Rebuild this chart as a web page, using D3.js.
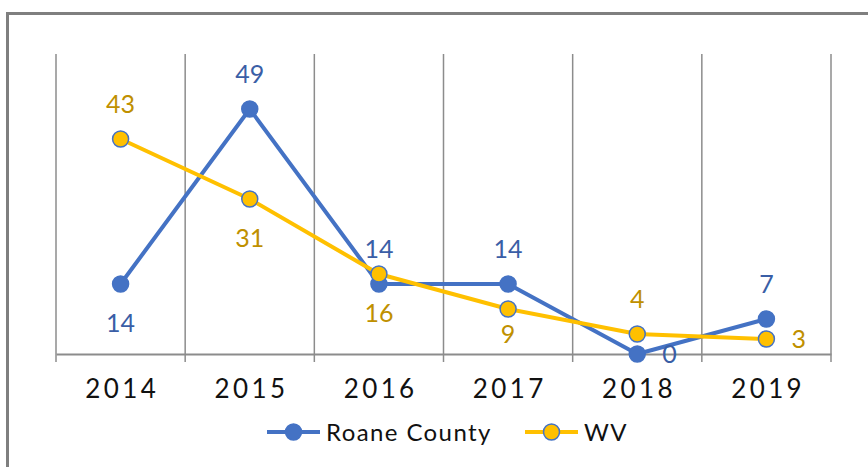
<!DOCTYPE html>
<html>
<head>
<meta charset="utf-8">
<script src="https://cdn.jsdelivr.net/npm/d3@7"></script>
<style>
body{margin:0;background:#fff;}
svg{display:block;}
</style>
</head>
<body>
<svg id="board" width="868" height="467"></svg>
<script>
years = ['2014','2015','2016','2017','2018','2019'];
roane = [14, 49, 14, 14, 0, 7];
wv = [43, 31, 16, 9, 4, 3];
// where each data label sits relative to its point
roane_pos = ['below','above','above','above','right','above'];
wv_pos = ['above','below','below','below','above','right'];

board = d3.select('#board');
font = 'Lato, "Noto Sans", sans-serif';

// outer frame, cut off at right and bottom
board.append('rect')
    .attr('x',7.5).attr('y',13.5)
    .attr('width',900).attr('height',500)
    .attr('fill','none')
    .attr('stroke','#7f7f7f')
    .attr('stroke-width',3);

x = d3.scaleBand().domain(years).range([56,831]);
y = d3.scaleLinear().domain([0,60]).range([354,54]);
cx = d => x(d) + x.bandwidth()/2;

// vertical gridlines on category boundaries
bounds = years.map(d => x(d)).concat([x.range()[1]]);
board.selectAll('.grid').data(bounds).enter().append('line')
    .attr('x1',d=>d).attr('x2',d=>d)
    .attr('y1',y(60)).attr('y2',y(0))
    .attr('stroke','#8c8c8c').attr('stroke-width',1.5);

xaxis = board.append('g')
    .attr('transform','translate(0,'+y(0)+')')
    .call(d3.axisBottom(x).tickSize(0));
xaxis.select('.domain').attr('stroke','#8c8c8c').attr('stroke-width',2);
xaxis.selectAll('text')
    .attr('y',44).attr('dy',0).attr('dx',1.7)
    .attr('font-family',font).attr('font-size',26)
    .attr('letter-spacing','3.4px').attr('fill','#111');
// tick marks on boundaries
board.selectAll('.tk').data(bounds).enter().append('line')
    .attr('x1',d=>d).attr('x2',d=>d)
    .attr('y1',y(0)).attr('y2',y(0)+8)
    .attr('stroke','#8c8c8c').attr('stroke-width',1.5);

line = d3.line().x((d,i)=>cx(years[i])).y(d=>y(d));

function draw_series(vals, col, mfill, mstroke, tcol, pos){
    board.append('path').datum(vals)
        .attr('d',line).attr('fill','none')
        .attr('stroke',col).attr('stroke-width',4)
        .attr('stroke-linejoin','round');
    board.selectAll(null).data(vals).enter().append('circle')
        .attr('cx',(d,i)=>cx(years[i])).attr('cy',d=>y(d))
        .attr('r',8).attr('fill',mfill)
        .attr('stroke',mstroke).attr('stroke-width',1.5);
    // labels below are kept inside the plot area
    board.selectAll(null).data(vals).enter().append('text')
        .attr('x',(d,i)=> pos[i]=='right' ? cx(years[i])+25 : cx(years[i]))
        .attr('y',(d,i)=> pos[i]=='above' ? y(d)-26 : pos[i]=='below' ? Math.min(y(d)+48, y(0)-11) : y(d)+9)
        .attr('text-anchor',(d,i)=> pos[i]=='right' ? 'start' : 'middle')
        .attr('font-family',font).attr('font-size',25)
        .attr('fill',tcol)
        .text(d=>d);
}

draw_series(roane,'#4472c4','#4472c4','#4472c4','#3a5ea6',roane_pos);
draw_series(wv,'#ffc000','#ffc000','#4472c4','#bf9000',wv_pos);

// legend
legend = [{name:'Roane County',col:'#4472c4',fill:'#4472c4',x:267},
          {name:'WV',col:'#ffc000',fill:'#ffc000',x:525}];
lg = board.selectAll('.lg').data(legend).enter().append('g')
    .attr('transform',d=>'translate('+d.x+',432)');
lg.append('line').attr('x1',0).attr('x2',53)
    .attr('stroke',d=>d.col).attr('stroke-width',4);
lg.append('circle').attr('cx',26.5).attr('r',8)
    .attr('fill',d=>d.fill).attr('stroke','#4472c4').attr('stroke-width',1.5);
lg.append('text').attr('x',59).attr('y',8.5)
    .attr('font-family',font).attr('font-size',24)
    .attr('letter-spacing','1.4px').attr('fill','#111')
    .text(d=>d.name);
</script>
</body>
</html>
